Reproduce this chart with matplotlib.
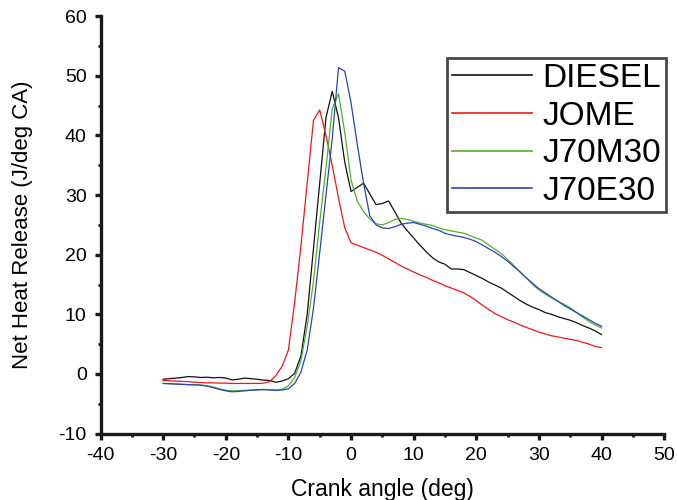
import matplotlib
matplotlib.use("Agg")
import matplotlib.pyplot as plt
from matplotlib.ticker import MultipleLocator

plt.rcParams['font.family'] = ['Liberation Sans', 'DejaVu Sans']
plt.rcParams['axes.unicode_minus'] = False

crank_angle = list(range(-30, 41))

diesel = [-0.9, -0.8, -0.7, -0.6, -0.45, -0.5, -0.6, -0.55, -0.65, -0.6,
          -0.7, -1.0, -0.9, -0.7, -0.8, -0.9, -1.05, -1.1, -1.4, -1.2,
          -0.8, 0.1, 3.0, 10.0, 21.0, 32.0, 43.0, 47.4, 43.0, 35.5,
          30.6, 31.3, 32.0, 30.2, 28.4, 28.6, 29.0, 27.2, 25.3, 24.0,
          22.8, 21.6, 20.5, 19.5, 18.8, 18.4, 17.6, 17.6, 17.5, 17.0,
          16.5, 16.0, 15.4, 14.9, 14.4, 13.7, 13.0, 12.3, 11.7, 11.2,
          10.8, 10.3, 10.0, 9.6, 9.3, 9.0, 8.6, 8.1, 7.7, 7.2,
          6.6]

jome = [-1.1, -1.15, -1.2, -1.25, -1.3, -1.4, -1.45, -1.5, -1.5, -1.55,
        -1.55, -1.6, -1.6, -1.6, -1.6, -1.6, -1.55, -1.3, -0.3, 1.3,
        4.0, 12.0, 21.5, 32.0, 42.5, 44.3, 40.0, 35.0, 29.5, 24.5,
        22.0, 21.6, 21.2, 20.8, 20.4, 19.9, 19.3, 18.7, 18.1, 17.6,
        17.1, 16.6, 16.2, 15.7, 15.3, 14.8, 14.4, 14.0, 13.6, 13.0,
        12.3, 11.5, 10.8, 10.1, 9.6, 9.1, 8.7, 8.2, 7.8, 7.4,
        7.0, 6.7, 6.4, 6.2, 6.0, 5.8, 5.6, 5.3, 5.0, 4.6,
        4.4]

j70m30 = [-1.6, -1.65, -1.7, -1.75, -1.8, -1.8, -1.85, -2.0, -2.2, -2.5,
          -2.75, -2.85, -2.8, -2.75, -2.7, -2.65, -2.6, -2.65, -2.7, -2.6,
          -2.0, -0.6, 2.2, 8.0, 15.5, 25.5, 34.5, 44.5, 47.0, 40.5,
          32.5, 29.0, 27.2, 26.0, 25.2, 25.0, 25.4, 25.9, 26.1, 25.9,
          25.6, 25.3, 25.1, 24.9, 24.5, 24.2, 24.0, 23.8, 23.6, 23.2,
          22.8, 22.4, 21.6, 20.9, 20.2, 19.2, 18.2, 17.1, 16.1, 15.0,
          14.1, 13.4, 12.8, 12.2, 11.7, 11.1, 10.3, 9.5, 8.8, 8.2,
          7.7]

j70e30 = [-1.6, -1.65, -1.7, -1.75, -1.8, -1.85, -1.9, -2.05, -2.3, -2.6,
          -2.85, -3.0, -2.95, -2.85, -2.75, -2.7, -2.65, -2.7, -2.75, -2.7,
          -2.5, -1.6, 0.3, 4.0, 11.0, 20.3, 30.0, 39.5, 51.4, 50.8,
          45.5, 38.5, 32.0, 26.5, 25.0, 24.5, 24.4, 24.7, 25.1, 25.3,
          25.4, 25.1, 24.8, 24.4, 24.1, 23.6, 23.3, 23.1, 22.9, 22.6,
          22.2, 21.6, 21.0, 20.4, 19.7, 18.9, 18.0, 17.1, 16.1, 15.2,
          14.3, 13.6, 12.9, 12.2, 11.5, 10.9, 10.3, 9.7, 9.1, 8.5,
          8.0]

series_labels = ['DIESEL', 'JOME', 'J70M30', 'J70E30']
series_values = [diesel, jome, j70m30, j70e30]
series_colors = ['#111111', '#f01818', '#4cb030', '#2a44b4']

fig = plt.figure(figsize=(6.77, 5.0), dpi=100)
ax = fig.add_axes([0.1485, 0.133, 0.8325, 0.8344])

for lab, vals, col in zip(series_labels, series_values, series_colors):
    ax.plot(crank_angle, vals, color=col, lw=0.9, label=lab)

ax.set_xlim(-40, 50)
ax.set_ylim(-10, 60)
ax.xaxis.set_major_locator(MultipleLocator(10))
ax.xaxis.set_minor_locator(MultipleLocator(5))
ax.yaxis.set_major_locator(MultipleLocator(10))
ax.yaxis.set_minor_locator(MultipleLocator(5))

for s in ['top', 'right']:
    ax.spines[s].set_visible(False)
for s in ['left', 'bottom']:
    ax.spines[s].set_linewidth(2.4)
    ax.spines[s].set_color('#1a1a1a')

ax.tick_params(which='major', direction='out', length=4, width=2.4,
               labelsize=14, color='#1a1a1a', pad=6)
ax.tick_params(which='minor', direction='out', length=2, width=2.0, color='#1a1a1a')

ax.set_xlabel('Crank angle (deg)', fontsize=16.5, labelpad=10)
ax.set_ylabel('Net Heat Release (J/deg CA)', fontsize=16, labelpad=18)

leg = ax.legend(loc='upper right', bbox_to_anchor=(666/677, 1 - 58/500),
                bbox_transform=fig.transFigure, fontsize=24, frameon=True,
                fancybox=False, edgecolor='#1a1a1a', handlelength=2.4,
                handletextpad=0.3, labelspacing=0.2, borderpad=0.15,
                borderaxespad=0)
leg.get_frame().set_linewidth(2.0)
for line in leg.get_lines():
    line.set_linewidth(1.2)

fig.savefig('out.png', dpi=100)
